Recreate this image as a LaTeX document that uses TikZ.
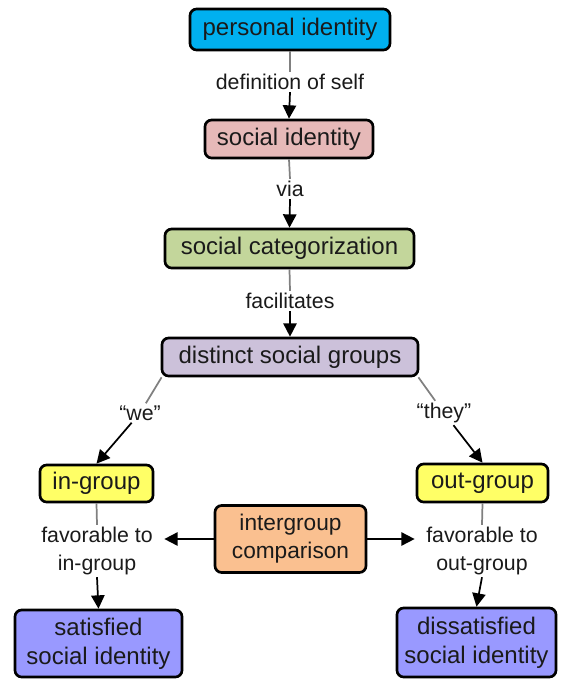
\documentclass[tikz,border=0pt]{standalone}
\usepackage{fontspec}
\setmainfont{Liberation Sans}
\usetikzlibrary{arrows.meta,calc}
\definecolor{cPI}{HTML}{00B0F0}
\definecolor{cSI}{HTML}{E6B9B8}
\definecolor{cSC}{HTML}{C3D69B}
\definecolor{cDG}{HTML}{CCC1DA}
\definecolor{cYE}{HTML}{FFFF66}
\definecolor{cIC}{HTML}{FAC090}
\definecolor{cSA}{HTML}{9999FF}
\definecolor{cTX}{HTML}{1A1A1A}
\definecolor{cLN}{HTML}{808080}
\tikzset{
  box/.style={draw=black, line width=2pt, rounded corners=5pt, inner sep=0pt,
    align=center, text=cTX, font=\fontsize{18}{21.75}\selectfont},
  lab/.style={inner sep=1.5pt, align=center, text=cTX, font=\fontsize{16}{21}\selectfont},
  feed/.style={draw=cLN, line width=1.3pt},
  arr/.style={draw=black, line width=1.3pt, -{Triangle[length=10pt,width=10pt]}},
}
\begin{document}
\begin{tikzpicture}[x=0.75pt,y=-0.75pt]
\useasboundingbox (0,0) rectangle (562,679);
% boxes
\node[box, fill=cPI, minimum width=150pt, minimum height=30.75pt] (pi) at (290,29.5) {personal identity};
\node[box, fill=cSI, minimum width=126pt, minimum height=28.5pt] (si) at (289,139) {social identity};
\node[box, fill=cSC, minimum width=186.75pt, minimum height=29.25pt] (sc) at (289.5,248.5) {social categorization};
\node[box, fill=cDG, minimum width=192pt, minimum height=28.5pt] (dg) at (290,357) {distinct social groups};
\node[box, fill=cYE, minimum width=84.75pt, minimum height=27.75pt] (ig) at (96.5,483.5) {in-group};
\node[box, fill=cYE, minimum width=98.25pt, minimum height=28.5pt] (og) at (482.5,483) {out-group};
\node[box, fill=cIC, minimum width=113.25pt, minimum height=50.25pt, font=\fontsize{17}{21}\selectfont] (ic) at (290.5,539) {intergroup\\comparison};
\node[box, fill=cSA, minimum width=125.25pt, minimum height=50.25pt] (ss) at (98.5,643.5) {satisfied\\social identity};
\node[box, fill=cSA, minimum width=119.25pt, minimum height=51.75pt] (ds) at (476.5,642.5) {dissatisfied\\social identity};
% labels
\node[lab] (l1) at (290,82) {definition of self};
\node[lab] (l2) at (290,189) {via};
\node[lab] (l3) at (290,301) {facilitates};
\node[lab] (lw) at (140,413) {“we”};
\node[lab] (lt) at (444,413) {“they”};
\node[lab] (fl) at (97,551) {favorable to\\in-group};
\node[lab] (fr) at (482,551) {favorable to\\out-group};
% connectors
\draw[feed] (pi.south) -- (l1.north);
\draw[arr] (l1.south) -- (si.north);
\draw[feed] (si.south) -- (l2.north);
\draw[arr] (l2.south) -- (sc.north);
\draw[feed] (sc.south) -- (l3.north);
\draw[arr] (l3.south) -- (dg.north);
\draw[feed] (dg.189) -- (lw);
\draw[arr] (lw) -- (ig.north);
\draw[feed] (dg.351) -- (lt);
\draw[arr] (lt) -- (og.north);
\draw[feed] (ig.south) -- (fl.north);
\draw[arr] (fl.south) -- (ss.north);
\draw[feed] (og.south) -- (fr.north);
\draw[arr] (fr.south) -- (ds.north);
\draw[arr] (ic.west) -- ([xshift=7pt]ic.west -| fl.east);
\draw[arr] (ic.east) -- ([xshift=-7pt]ic.east -| fr.west);
\end{tikzpicture}
\end{document}
